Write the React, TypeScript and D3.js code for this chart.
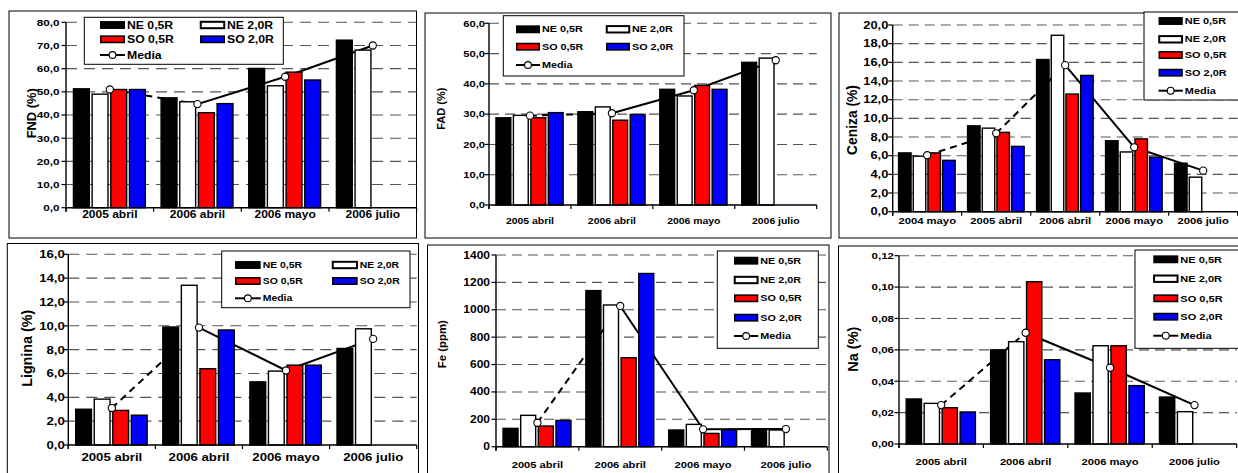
import React from "react";
import * as d3 from "d3";

// ---------- DATA ----------
const catsA = ["2005 abril", "2006 abril", "2006 mayo", "2006 julio"];
const catsCeniza = ["2004 mayo", "2005 abril", "2006 abril", "2006 mayo", "2006 julio"];
const seriesNames = ["NE 0,5R", "NE 2,0R", "SO 0,5R", "SO 2,0R"];
const seriesColors = ["#000000", "#ffffff", "#ff0000", "#0000ff"];
const mediaName = "Media";
const gapCategory = "2006 abril"; // media segments up to this category are dashed

const fndNE05 = [51.3, 47.4, 60.1, 72.3];
const fndNE20 = [49.0, 45.7, 52.6, 68.0];
const fndSO05 = [51.0, 41.0, 58.5, null];
const fndSO20 = [51.0, 44.9, 55.1, null];
const fndMedia = [51.0, 44.7, 56.5, 70.0];
const fndTicks = [0, 10, 20, 30, 40, 50, 60, 70, 80];

const fadNE05 = [28.8, 30.8, 38.2, 47.1];
const fadNE20 = [29.6, 32.4, 36.0, 48.5];
const fadSO05 = [28.8, 28.0, 39.5, null];
const fadSO20 = [30.5, 29.9, 38.2, null];
const fadMedia = [29.5, 30.3, 37.9, 47.8];
const fadTicks = [0, 10, 20, 30, 40, 50, 60];

const cenNE05 = [6.3, 9.2, 16.3, 7.6, 5.2];
const cenNE20 = [5.95, 8.95, 18.9, 6.4, 3.7];
const cenSO05 = [6.3, 8.5, 12.6, 7.8, null];
const cenSO20 = [5.5, 7.0, 14.6, 5.85, null];
const cenMedia = [6.05, 8.4, 15.7, 6.9, 4.4];
const cenTicks = [0, 2, 4, 6, 8, 10, 12, 14, 16, 18, 20];

const ligNE05 = [3.0, 9.9, 5.3, 8.1];
const ligNE20 = [3.85, 13.4, 6.2, 9.75];
const ligSO05 = [2.9, 6.4, 6.7, null];
const ligSO20 = [2.5, 9.65, 6.7, null];
const ligMedia = [3.1, 9.85, 6.25, 8.9];
const ligTicks = [0, 2, 4, 6, 8, 10, 12, 14, 16];

const feNE05 = [134, 1140, 122, 129];
const feNE20 = [229, 1035, 163, 122];
const feSO05 = [151, 650, 97, null];
const feSO20 = [192, 1265, 122, null];
const feMedia = [175, 1028, 127, 129];
const feTicks = [0, 200, 400, 600, 800, 1000, 1200, 1400];

const naNE05 = [0.0287, 0.06, 0.0325, 0.0299];
const naNE20 = [0.0259, 0.0652, 0.0626, 0.0206];
const naSO05 = [0.0231, 0.1034, 0.0626, null];
const naSO20 = [0.0204, 0.0537, 0.0372, null];
const naMedia = [0.0248, 0.0709, 0.0486, 0.0248];
const naTicks = [0, 0.02, 0.04, 0.06, 0.08, 0.1, 0.12];

// ---------- LAYOUT ----------
const FONT = "'Liberation Sans', Arial, Helvetica, sans-serif";
const SX = 1.2;

type Layout = {
  box: number[];
  left: number; right: number; top: number; bottom: number;
  fsTick: number; fsCat: number; fsLeg: number; fsTitle: number;
  titleX: number; titleY: number; catY: number; labelGap: number;
  legBox: number[]; legCols: number; legColX: number[]; legRowY: number[]; swW: number;
  dash: string;
};

const fmt = (d: number) => (d: number) => d;
const comma1 = (v: number) => d3.format(".1f")(v).replace(".", ",");
const comma2 = (v: number) => d3.format(".2f")(v).replace(".", ",");
const intF = (v: number) => d3.format("d")(v);

const panels = [
  {
    title: "FND (%)", cats: catsA, series: [fndNE05, fndNE20, fndSO05, fndSO20], media: fndMedia,
    ticks: fndTicks, format: comma1,
    L: { box: [9, 11, 416.5, 238], left: 66, right: 416.6, top: 22.3, bottom: 207.7,
      fsTick: 9.8, fsCat: 10, fsLeg: 10.2, fsTitle: 12.9, titleX: 31.7, titleY: 113.3, catY: 218.3, labelGap: 6.5,
      legBox: [84.3, 17.3, 283.3, 64.3], legCols: 2, legColX: [100, 200], legRowY: [25, 39.3, 55], swW: 25, dash: "11 7" } as Layout,
  },
  {
    title: "FAD (%)", cats: catsA, series: [fadNE05, fadNE20, fadSO05, fadSO20], media: fadMedia,
    ticks: fadTicks, format: comma1,
    L: { box: [425, 13, 831, 238], left: 489, right: 816.7, top: 23.3, bottom: 205,
      fsTick: 9.3, fsCat: 8.7, fsLeg: 9.0, fsTitle: 11, titleX: 440.7, titleY: 108.7, catY: 224, labelGap: 4,
      legBox: [503.3, 15.7, 684, 76], legCols: 2, legColX: [516, 606], legRowY: [29.3, 46.7, 65], swW: 24, dash: "10 6" } as Layout,
  },
  {
    title: "Ceniza (%)", cats: catsCeniza, series: [cenNE05, cenNE20, cenSO05, cenSO20], media: cenMedia,
    ticks: cenTicks, format: comma1,
    L: { box: [839, 13, 1250, 238], left: 892.7, right: 1237.7, top: 25, bottom: 211.7,
      fsTick: 10.7, fsCat: 9.4, fsLeg: 9.1, fsTitle: 13.8, titleX: 852.3, titleY: 120, catY: 224, labelGap: 4.4,
      legBox: [1144, 12, 1250, 100], legCols: 1, legColX: [1158.5], legRowY: [21, 39.3, 55, 72.7, 90.7], swW: 24.3, dash: "10 6" } as Layout,
  },
  {
    title: "Lignina (%)", cats: catsA, series: [ligNE05, ligNE20, ligSO05, ligSO20], media: ligMedia,
    ticks: ligTicks, format: comma1,
    L: { box: [7.3, 243.5, 418.5, 480], left: 68.3, right: 416.7, top: 254.3, bottom: 445,
      fsTick: 11, fsCat: 11, fsLeg: 8.7, fsTitle: 14.3, titleX: 27.3, titleY: 348.3, catY: 461, labelGap: 3.5,
      legBox: [221.7, 251, 410, 307.7], legCols: 2, legColX: [235, 332], legRowY: [265, 281, 298.3], swW: 25.7, dash: "11 7" } as Layout,
  },
  {
    title: "Fe (ppm)", cats: catsA, series: [feNE05, feNE20, feSO05, feSO20], media: feMedia,
    ticks: feTicks, format: intF,
    L: { box: [427.5, 245, 829, 480], left: 496, right: 827.3, top: 255, bottom: 446.7,
      fsTick: 10, fsCat: 9.3, fsLeg: 9.0, fsTitle: 11.4, titleX: 441.7, titleY: 344.2, catY: 468, labelGap: 6,
      legBox: [717.3, 251, 818.3, 348.3], legCols: 1, legColX: [734], legRowY: [260.7, 280, 298.3, 317.7, 336], swW: 24.3, dash: "10 6" } as Layout,
  },
  {
    title: "Na (%)", cats: catsA, series: [naNE05, naNE20, naSO05, naSO20], media: naMedia,
    ticks: naTicks, format: comma2,
    L: { box: [838.5, 246, 1250, 480], left: 899, right: 1236.7, top: 255.7, bottom: 444,
      fsTick: 9.6, fsCat: 9.3, fsLeg: 9.2, fsTitle: 14.5, titleX: 853.3, titleY: 349.2, catY: 465, labelGap: 5,
      legBox: [1135, 250, 1250, 348.3], legCols: 1, legColX: [1153.3], legRowY: [259.3, 278.7, 298.3, 316.7, 335.7], swW: 25, dash: "10 6" } as Layout,
  },
];

function SText(props: { x: number; y: number; size: number; anchor?: string; children: any; dy?: string }) {
  const { x, y, size, anchor = "start", children, dy } = props;
  return (
    <text transform={`translate(${x},${y}) scale(${SX},1)`} textAnchor={anchor} dy={dy}
      fontFamily={FONT} fontWeight="bold" fontSize={size} fill="#000">{children}</text>
  );
}

function Panel({ p }: { p: (typeof panels)[number] }) {
  const L = p.L;
  const x0 = d3.scaleBand<string>().domain(p.cats).range([L.left, L.right]).paddingInner(0).paddingOuter(0);
  const bw = x0.bandwidth();
  const x1 = d3.scaleBand<string>().domain(seriesNames).range([bw * 0.085, bw * 0.905]).paddingInner(0.15);
  const maxV = p.ticks[p.ticks.length - 1];
  const y = d3.scaleLinear().domain([0, maxV]).range([L.bottom, L.top]);
  const gapIdx = p.cats.indexOf(gapCategory);
  const pts = p.media.map((v, i) => [x0(p.cats[i])! + bw / 2, y(v)] as [number, number]);
  const line = d3.line();

  const legendItems = [...seriesNames.map((n, i) => ({ name: n, color: seriesColors[i], media: false })),
    { name: mediaName, color: "", media: true }];
  const legPos = (i: number) => {
    if (L.legCols === 2) {
      if (i < 4) return { x: L.legColX[i % 2], y: L.legRowY[Math.floor(i / 2)] };
      return { x: L.legColX[0], y: L.legRowY[2] };
    }
    return { x: L.legColX[0], y: L.legRowY[i] };
  };
  const [bx0, by0, bx1, by1] = L.box;
  const [lx0, ly0, lx1, ly1] = L.legBox;

  return (
    <g>
      <rect x={bx0} y={by0} width={bx1 - bx0} height={by1 - by0} fill="#fff" stroke="#000" strokeWidth={1} />
      {/* gridlines */}
      {p.ticks.filter((t) => t > 0).map((t) => (
        <line key={"g" + t} x1={L.left} x2={L.right} y1={y(t)} y2={y(t)} stroke="#555" strokeWidth={1.1} strokeDasharray={L.dash} />
      ))}
      {/* media line (behind bars) */}
      {pts.slice(1).map((pt, i) => (
        <path key={"ml" + i} d={line([pts[i], pt])!} fill="none" stroke="#000" strokeWidth={2}
          strokeDasharray={i + 1 <= gapIdx ? "7 5" : undefined} />
      ))}
      {/* bars */}
      {p.series.map((vals, si) => (
        <g key={"s" + si}>
          {vals.map((v, ci) => v == null ? null : (
            <rect key={ci} x={x0(p.cats[ci])! + x1(seriesNames[si])!} y={y(v)} width={x1.bandwidth()}
              height={L.bottom - y(v)} fill={seriesColors[si]} stroke="#000" strokeWidth={1.4} />
          ))}
        </g>
      ))}
      {/* y axis */}
      <line x1={L.left} x2={L.left} y1={L.top} y2={L.bottom + 4} stroke="#000" strokeWidth={1.4} />
      {p.ticks.map((t) => (
        <g key={"yt" + t}>
          <line x1={L.left - 4.5} x2={L.left} y1={y(t)} y2={y(t)} stroke="#000" strokeWidth={1.2} />
          <SText x={L.left - L.labelGap} y={y(t)} size={L.fsTick} anchor="end" dy="0.35em">{p.format(t)}</SText>
        </g>
      ))}
      {/* x axis */}
      <line x1={L.left} x2={L.right} y1={L.bottom} y2={L.bottom} stroke="#000" strokeWidth={1.4} />
      {[...p.cats.map((c) => x0(c)!), L.right].map((xv, i) => (
        <line key={"xt" + i} x1={xv} x2={xv} y1={L.bottom} y2={L.bottom + 4} stroke="#000" strokeWidth={1.2} />
      ))}
      {p.cats.map((c) => (
        <SText key={"cl" + c} x={x0(c)! + bw / 2} y={L.catY} size={L.fsCat} anchor="middle">{c}</SText>
      ))}
      {/* media markers (on top) */}
      {pts.map((pt, i) => (
        <circle key={"mk" + i} cx={pt[0]} cy={pt[1]} r={3.6} fill="#fff" stroke="#000" strokeWidth={1.1} />
      ))}
      {/* title */}
      <text transform={`translate(${L.titleX},${L.titleY}) rotate(-90)`} textAnchor="middle" dominantBaseline="central"
        fontFamily={FONT} fontWeight="bold" fontSize={L.fsTitle}>{p.title}</text>
      {/* legend */}
      <rect x={lx0} y={ly0} width={lx1 - lx0} height={ly1 - ly0} fill="#fff" stroke="#000" strokeWidth={1} />
      {legendItems.map((it, i) => {
        const pos = legPos(i);
        return (
          <g key={"lg" + i}>
            {it.media ? (
              <g>
                <line x1={pos.x} x2={pos.x + L.swW} y1={pos.y} y2={pos.y} stroke="#000" strokeWidth={2} />
                <circle cx={pos.x + L.swW / 2} cy={pos.y} r={3.4} fill="#fff" stroke="#000" strokeWidth={1.1} />
              </g>
            ) : (
              <rect x={pos.x + 0.75} y={pos.y - 3.2} width={L.swW - 1.5} height={6.4} fill={it.color} stroke="#000"
                strokeWidth={it.color === "#ffffff" ? 2 : 1.5} />
            )}
            <SText x={pos.x + L.swW + 2} y={pos.y} size={L.fsLeg} dy="0.35em">{it.name}</SText>
          </g>
        );
      })}
    </g>
  );
}

export default function App() {
  return (
    <div style={{ position: "absolute", left: 0, top: 0, width: 1238, height: 473, background: "#fff" }}>
      <svg width={1238} height={473} viewBox="0 0 1238 473" style={{ display: "block" }}>
        <rect x={0} y={0} width={1238} height={473} fill="#fff" />
        {panels.map((p, i) => <Panel key={i} p={p} />)}
      </svg>
    </div>
  );
}
